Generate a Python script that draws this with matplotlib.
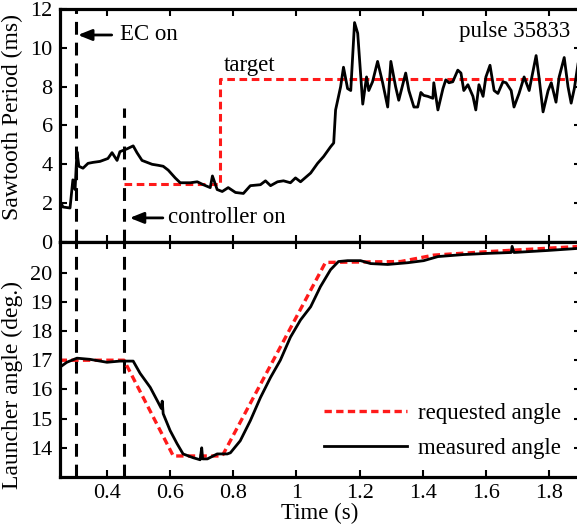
import numpy as np
import matplotlib
matplotlib.use('Agg')
import matplotlib.pyplot as plt
from matplotlib.ticker import FuncFormatter

plt.rcParams['font.family'] = ['Liberation Serif', 'DejaVu Serif']
plt.rcParams['font.size'] = 16.5

# Sawtooth period, measured (ms)
saw_time = [0.251, 0.261, 0.283, 0.292, 0.299, 0.305, 0.311, 0.324, 0.340, 0.356,
            0.378, 0.403, 0.416, 0.432, 0.441, 0.464, 0.483, 0.495, 0.511, 0.527,
            0.543, 0.562, 0.578, 0.594, 0.616, 0.632, 0.664, 0.686, 0.705, 0.727,
            0.734, 0.749, 0.765, 0.784, 0.807, 0.832, 0.854, 0.886, 0.902, 0.918,
            0.940, 0.959, 0.981, 0.997, 1.013, 1.045, 1.067, 1.086, 1.108, 1.118,
            1.124, 1.140, 1.149, 1.162, 1.172, 1.184, 1.194, 1.210, 1.222, 1.229,
            1.241, 1.257, 1.273, 1.289, 1.299, 1.314, 1.324, 1.346, 1.356, 1.372,
            1.384, 1.394, 1.403, 1.416, 1.432, 1.435, 1.448, 1.464, 1.473, 1.483,
            1.495, 1.511, 1.521, 1.530, 1.543, 1.559, 1.568, 1.578, 1.591, 1.600,
            1.613, 1.626, 1.638, 1.654, 1.664, 1.680, 1.689, 1.705, 1.721, 1.737,
            1.759, 1.768, 1.781, 1.797, 1.807, 1.822, 1.832, 1.848, 1.860, 1.870,
            1.880, 1.892]
saw_period = [2.1, 1.8, 1.75, 3.2, 2.7, 4.65, 3.9, 3.8, 4.05, 4.1,
              4.15, 4.3, 4.6, 4.2, 4.65, 4.8, 4.95, 4.6, 4.2, 4.1,
              4.0, 3.95, 3.9, 3.7, 3.3, 3.05, 3.05, 3.1, 2.95, 2.8,
              3.4, 2.7, 2.6, 2.8, 2.55, 2.5, 2.9, 2.95, 3.15, 2.9,
              3.1, 3.15, 3.05, 3.3, 3.1, 3.55, 4.05, 4.4, 4.9, 5.1,
              6.8, 8.0, 9.0, 7.9, 7.8, 11.3, 10.75, 7.1, 8.5, 7.8,
              8.25, 9.3, 8.2, 6.95, 9.3, 8.0, 7.3, 8.7, 7.8, 6.95,
              6.95, 7.7, 7.55, 7.5, 7.4, 8.2, 6.8, 7.9, 8.35, 8.2,
              8.25, 8.85, 8.7, 7.8, 8.1, 7.5, 6.8, 8.1, 7.5, 8.5,
              9.1, 7.8, 7.65, 8.25, 8.2, 7.8, 6.95, 7.65, 8.5, 7.8,
              9.6, 8.5, 6.7, 7.8, 8.2, 7.2, 8.5, 9.5, 8.0, 7.15,
              7.9, 9.2]

# Sawtooth period target (ms), step changes
target_time = [0.455, 0.759, 0.759, 1.9]
target_period = [3.0, 3.0, 8.4, 8.4]

# Launcher angle (deg.)
req_time = [0.25, 0.454, 0.610, 0.765, 1.092, 1.330, 1.435, 1.607, 1.9]
req_angle = [17.0, 17.0, 13.72, 13.72, 20.35, 20.38, 20.6, 20.72, 20.9]

meas_time = [0.251, 0.273, 0.305, 0.346, 0.400, 0.441, 0.483, 0.505, 0.537, 0.559,
             0.572, 0.575, 0.578, 0.600, 0.622, 0.641, 0.673, 0.695, 0.700, 0.703,
             0.718, 0.749, 0.781, 0.791, 0.822, 0.854, 0.886, 0.918, 0.949, 0.981,
             1.013, 1.045, 1.076, 1.108, 1.133, 1.162, 1.203, 1.235, 1.289, 1.353,
             1.403, 1.448, 1.530, 1.607, 1.680, 1.683, 1.689, 1.797, 1.892]
meas_angle = [16.76, 16.93, 17.07, 17.03, 16.93, 16.97, 16.97, 16.55, 16.07, 15.62,
              15.35, 15.6, 15.17, 14.59, 14.14, 13.79, 13.66, 13.59, 14.0, 13.62,
              13.62, 13.79, 13.79, 13.83, 14.24, 14.93, 15.72, 16.41, 17.0, 17.79,
              18.38, 18.83, 19.52, 20.1, 20.38, 20.41, 20.41, 20.31, 20.28, 20.34,
              20.41, 20.55, 20.62, 20.66, 20.69, 20.9, 20.69, 20.76, 20.83]

ec_on_time = 0.302
controller_on_time = 0.455

xticks = [0.4, 0.6, 0.8, 1.0, 1.2, 1.4, 1.6, 1.8]

RED = '#ff1a1a'


def style_axes(ax):
    for spine in ax.spines.values():
        spine.set_linewidth(2.3)
    ax.tick_params(direction='in', top=True, right=True, length=5, width=1.5, pad=5, labelsize=16)
    ax.set_xlim(0.25, 1.9)
    ax.set_xticks(xticks)
    ax.xaxis.set_major_formatter(FuncFormatter(lambda v, p: f'{v:g}'))


fig = plt.figure(figsize=(5.77, 5.28), dpi=100)
ax_top = fig.add_axes([0.1033, 0.5417, 0.903, 0.4413])
ax_bot = fig.add_axes([0.1033, 0.0966, 0.903, 0.4451])

# top panel: sawtooth period
style_axes(ax_top)
ax_top.set_ylim(0, 12)
ax_top.set_yticks([0, 2, 4, 6, 8, 10, 12])
ax_top.tick_params(labelbottom=False)
ax_top.plot(target_time, target_period, color=RED, lw=2.2, dashes=(2.5, 1.5))
ax_top.plot(saw_time, saw_period, color='k', lw=2.0)
ax_top.axvline(ec_on_time, color='k', lw=2.2, dashes=(4.2, 2.6))
ax_top.plot([controller_on_time, controller_on_time], [0, 6.9], color='k', lw=2.2, dashes=(4.2, 2.6))
ax_top.set_ylabel('Sawtooth Period (ms)', fontsize=17)
ax_top.yaxis.set_label_coords(-0.07, 0.535)

arrow = dict(arrowstyle='-|>,head_length=0.5,head_width=0.2', lw=2.0, color='k', shrinkA=0, shrinkB=0)
ax_top.annotate('', xy=(0.308, 10.66), xytext=(0.415, 10.66), arrowprops=arrow)
ax_top.text(0.441, 10.66, 'EC on', va='center', ha='left')
ax_top.annotate('', xy=(0.472, 1.24), xytext=(0.577, 1.24), arrowprops=arrow)
ax_top.text(0.593, 1.24, 'controller on', va='center', ha='left')
ax_top.text(0.770, 9.1, 'target', va='center', ha='left')
ax_top.text(1.866, 10.86, 'pulse 35833', va='center', ha='right')

# bottom panel: launcher angle
style_axes(ax_bot)
ax_bot.set_ylim(13, 21.05)
ax_bot.set_yticks([14, 15, 16, 17, 18, 19, 20])
ax_bot.axvline(ec_on_time, color='k', lw=2.2, dashes=(4.2, 2.6))
ax_bot.axvline(controller_on_time, color='k', lw=2.2, dashes=(4.2, 2.6))
ax_bot.plot(req_time, req_angle, color=RED, lw=2.4, dashes=(2.2, 1.3), label='requested angle')
ax_bot.plot(meas_time, meas_angle, color='k', lw=2.0, label='measured angle')
ax_bot.set_ylabel('Launcher angle (deg.)', fontsize=17)
ax_bot.yaxis.set_label_coords(-0.07, 0.39)
ax_bot.set_xlabel('Time (s)', labelpad=0)

ax_bot.legend(loc='center', bbox_to_anchor=(0.735, 0.195), frameon=False,
              handlelength=3.6, handletextpad=0.5, labelspacing=0.6)

fig.savefig('out.png', dpi=100)
